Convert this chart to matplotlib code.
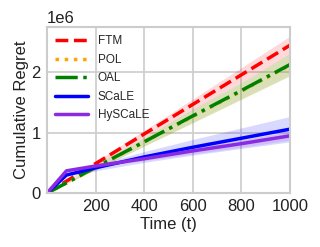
import matplotlib
matplotlib.use("Agg")
import matplotlib.pyplot as plt
import numpy as np
import seaborn as sns

sns.set_style("whitegrid")
plt.rcParams['font.family'] = ['Liberation Sans', 'DejaVu Sans']

t = np.array([0, 80, 200, 400, 600, 800, 1000])

ftm = np.array([0, 0.20, 0.49, 0.98, 1.47, 1.96, 2.45]) * 1e6
pol = np.array([0, 0.17, 0.42, 0.85, 1.27, 1.69, 2.12]) * 1e6
oal = np.array([0, 0.17, 0.43, 0.85, 1.28, 1.70, 2.13]) * 1e6
scale = np.array([0, 0.30, 0.42, 0.60, 0.76, 0.91, 1.06]) * 1e6
hyscale = np.array([0, 0.37, 0.45, 0.57, 0.70, 0.82, 0.95]) * 1e6

ftm_sd = np.array([0, 0.01, 0.03, 0.06, 0.09, 0.12, 0.15]) * 1e6
pol_sd = np.array([0, 0.01, 0.04, 0.07, 0.11, 0.14, 0.18]) * 1e6
oal_sd = np.array([0, 0.01, 0.04, 0.07, 0.11, 0.14, 0.18]) * 1e6
scale_sd = np.array([0, 0.02, 0.05, 0.09, 0.13, 0.17, 0.21]) * 1e6
hyscale_sd = np.array([0, 0.02, 0.02, 0.03, 0.05, 0.06, 0.07]) * 1e6

series = [
    ("FTM", ftm, ftm_sd, "red", "--"),
    ("POL", pol, pol_sd, "orange", ":"),
    ("OAL", oal, oal_sd, "green", "-."),
    ("SCaLE", scale, scale_sd, "blue", "-"),
    ("HySCaLE", hyscale, hyscale_sd, "blueviolet", "-"),
]

fig, ax = plt.subplots(figsize=(3.2, 2.47), dpi=100)
for name, y, sd, c, ls in series:
    ax.plot(t, y, color=c, linestyle=ls, linewidth=2.5, label=name)
    ax.fill_between(t, y - sd, y + sd, color=c, alpha=0.15, linewidth=0)

ax.set_xlim(0, 1000)
ax.set_ylim(0, 2.75e6)
ax.set_xticks([200, 400, 600, 800, 1000])
ax.set_yticks([0, 1e6, 2e6])
ax.grid(True, color="#d0d0d0", linewidth=1.3)
for sp in ax.spines.values():
    sp.set_color("#cccccc")
    sp.set_linewidth(1.5)
ax.tick_params(labelsize=12, pad=1, colors="#222222")
ax.yaxis.get_offset_text().set_fontsize(12)
ax.set_xlabel("Time (t)", fontsize=12, labelpad=2, color="#222222")
ax.set_ylabel("Cumulative Regret", fontsize=12, labelpad=2, color="#222222")
ax.legend(loc="upper left", fontsize=8.5, frameon=False, handlelength=2.8,
          labelspacing=0.55, borderaxespad=0.3)

fig.subplots_adjust(left=0.147, right=0.906, top=0.89, bottom=0.218)
fig.savefig("out.png")
